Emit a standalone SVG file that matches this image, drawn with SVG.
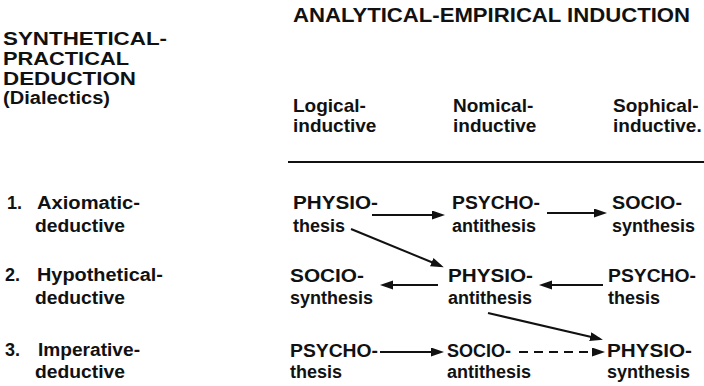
<svg xmlns="http://www.w3.org/2000/svg" width="704" height="386" viewBox="0 0 704 386">
<style>
text{font-family:"Liberation Sans",Arial,sans-serif;font-weight:bold;fill:#111;}
.t{font-size:20px;}
.h{font-size:17.5px;}
.c{font-size:19px;}
.n{font-size:18px;}
.ln{stroke:#111;stroke-width:2;fill:none;}
.dash{stroke-dasharray:9 6;}
</style>
<defs>
<marker id="ah" markerUnits="userSpaceOnUse" markerWidth="13" markerHeight="10" refX="10" refY="4.5" orient="auto">
<path d="M0,0 L13,4.5 L0,9 z" fill="#111"/>
</marker>
</defs>
<rect width="704" height="386" fill="#fff"/>

<text class="t" x="293" y="22" textLength="397" lengthAdjust="spacingAndGlyphs">ANALYTICAL-EMPIRICAL INDUCTION</text>

<g id="left-header">
<text class="h" x="3" y="45" textLength="164" lengthAdjust="spacingAndGlyphs">SYNTHETICAL-</text>
<text class="h" x="3" y="65" textLength="126" lengthAdjust="spacingAndGlyphs">PRACTICAL</text>
<text class="h" x="3" y="85" textLength="133" lengthAdjust="spacingAndGlyphs">DEDUCTION</text>
<text class="h" x="3" y="104" textLength="107" lengthAdjust="spacingAndGlyphs">(Dialectics)</text>
</g>

<g id="col-headers">
<text class="c" x="293" y="112">Logical-</text>
<text class="c" x="293" y="132">inductive</text>
<text class="c" x="453" y="112">Nomical-</text>
<text class="c" x="453" y="132">inductive</text>
<text class="c" x="613" y="112">Sophical-</text>
<text class="c" x="613" y="132">inductive.</text>
<line x1="288" y1="162" x2="704" y2="162" stroke="#111" stroke-width="2"/>
</g>

<g id="row-labels">
<text class="n" x="7" y="209">1.</text>
<text class="n" x="37" y="209" textLength="103" lengthAdjust="spacingAndGlyphs">Axiomatic-</text>
<text class="n" x="35" y="232" textLength="90" lengthAdjust="spacingAndGlyphs">deductive</text>
<text class="n" x="5" y="281">2.</text>
<text class="n" x="37" y="281" textLength="126" lengthAdjust="spacingAndGlyphs">Hypothetical-</text>
<text class="n" x="35" y="304" textLength="90" lengthAdjust="spacingAndGlyphs">deductive</text>
<text class="n" x="5" y="356">3.</text>
<text class="n" x="38" y="356" textLength="102" lengthAdjust="spacingAndGlyphs">Imperative-</text>
<text class="n" x="35" y="378" textLength="90" lengthAdjust="spacingAndGlyphs">deductive</text>
</g>

<g id="r1c1"><text class="n" x="293" y="209" textLength="85" lengthAdjust="spacingAndGlyphs">PHYSIO-</text><text class="n" x="293" y="232">thesis</text></g>
<g id="r1c2"><text class="n" x="452" y="209" textLength="88" lengthAdjust="spacingAndGlyphs">PSYCHO-</text><text class="n" x="452" y="232">antithesis</text></g>
<g id="r1c3"><text class="n" x="612" y="209" textLength="70" lengthAdjust="spacingAndGlyphs">SOCIO-</text><text class="n" x="612" y="232">synthesis</text></g>

<g id="r2c1"><text class="n" x="290" y="282" textLength="74" lengthAdjust="spacingAndGlyphs">SOCIO-</text><text class="n" x="290" y="304">synthesis</text></g>
<g id="r2c2"><text class="n" x="448" y="282" textLength="85" lengthAdjust="spacingAndGlyphs">PHYSIO-</text><text class="n" x="448" y="304">antithesis</text></g>
<g id="r2c3"><text class="n" x="608" y="282" textLength="88" lengthAdjust="spacingAndGlyphs">PSYCHO-</text><text class="n" x="608" y="304">thesis</text></g>

<g id="r3c1"><text class="n" x="290" y="357" textLength="88" lengthAdjust="spacingAndGlyphs">PSYCHO-</text><text class="n" x="290" y="378">thesis</text></g>
<g id="r3c2"><text class="n" x="447" y="357">SOCIO-</text><text class="n" x="447" y="378">antithesis</text></g>
<g id="r3c3"><text class="n" x="607" y="357" textLength="85" lengthAdjust="spacingAndGlyphs">PHYSIO-</text><text class="n" x="607" y="378">synthesis</text></g>

<g id="connectors">
<line class="ln" x1="372" y1="215" x2="442" y2="215" marker-end="url(#ah)"/>
<line class="ln" x1="547" y1="213" x2="604" y2="213" marker-end="url(#ah)"/>
<line class="ln" x1="351" y1="229" x2="441" y2="266" marker-end="url(#ah)"/>
<line class="ln" x1="438" y1="285" x2="383" y2="285" marker-end="url(#ah)"/>
<line class="ln" x1="603" y1="285" x2="542" y2="285" marker-end="url(#ah)"/>
<line class="ln" x1="488" y1="313" x2="600" y2="339" marker-end="url(#ah)"/>
<line class="ln" x1="380" y1="352" x2="441" y2="352" marker-end="url(#ah)"/>
<line class="ln dash" x1="519" y1="352" x2="602" y2="352" marker-end="url(#ah)"/>
</g>
</svg>
